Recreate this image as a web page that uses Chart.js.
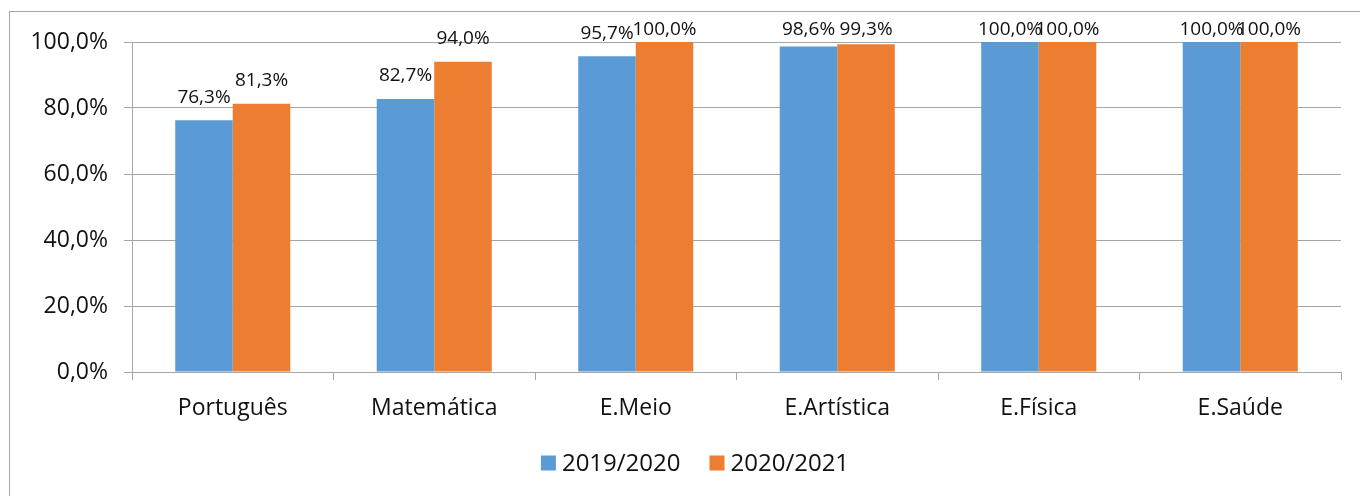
<!DOCTYPE html>
<html>
<head>
<meta charset="utf-8">
<script src="https://cdn.jsdelivr.net/npm/chart.js@4"></script>
<style>
  html, body { margin: 0; padding: 0; background: #fff; }
  #wrap { width: 1360px; height: 496px; }
</style>
</head>
<body>
<div id="wrap"><canvas id="chart" width="1360" height="496"></canvas></div>
<script>
/* ── Data ───────────────────────────────────────────── */
const categories = ["Português", "Matemática", "E.Meio", "E.Artística", "E.Física", "E.Saúde"];
const seriesNames = ["2019/2020", "2020/2021"];
const values2019 = [76.3, 82.7, 95.7, 98.6, 100.0, 100.0];
const values2020 = [81.3, 94.0, 100.0, 99.3, 100.0, 100.0];
const yTicks = [0, 20, 40, 60, 80, 100];

const FONT = "'Open Sans', 'Noto Sans', sans-serif";
const GRID = "#a6a6a6";
const TEXT = "#111";

/* Format numbers the Portuguese way: 76,3% */
function pct(v) {
  return v.toFixed(1).replace(".", ",") + "%";
}

/* ── Plugins ────────────────────────────────────────── */
/* Outer frame like the spreadsheet chart border */
const framePlugin = {
  id: "frame",
  beforeDraw(chart) {
    const ctx = chart.ctx;
    ctx.save();
    ctx.fillStyle = "#fff";
    ctx.fillRect(0, 0, chart.width, chart.height);
    ctx.strokeStyle = GRID;
    ctx.lineWidth = 1;
    ctx.strokeRect(9.5, 11.5, 1400, 600);
    ctx.restore();
  },
};

/* Value labels above each bar, kept inside the top of the plot */
const valueLabels = {
  id: "valueLabels",
  afterDatasetsDraw(chart) {
    const ctx = chart.ctx;
    const top = chart.chartArea.top;
    ctx.save();
    ctx.font = "19px " + FONT;
    ctx.fillStyle = TEXT;
    ctx.textAlign = "center";
    ctx.textBaseline = "middle";
    chart.data.datasets.forEach((ds, i) => {
      chart.getDatasetMeta(i).data.forEach((bar, j) => {
        const y = Math.max(bar.y - 23, top - 12);
        ctx.fillText(pct(ds.data[j]), bar.x, y);
      });
    });
    ctx.restore();
  },
};

/* Legend drawn by hand: small square, tight gap, text */
const bottomLegend = {
  id: "bottomLegend",
  afterDraw(chart) {
    const ctx = chart.ctx;
    const box = 15, gapText = 6, gapItem = 29, cy = 463;
    ctx.save();
    ctx.font = "24px " + FONT;
    ctx.textBaseline = "middle";
    const items = chart.data.datasets.map((ds) => ({
      text: ds.label,
      color: ds.backgroundColor,
      w: ctx.measureText(ds.label).width,
    }));
    let total = 0;
    items.forEach((it, i) => {
      total += box + gapText + it.w + (i ? gapItem : 0);
    });
    let x = 695 - total / 2;
    items.forEach((it) => {
      ctx.fillStyle = it.color;
      ctx.fillRect(x, cy - box / 2, box, box);
      x += box + gapText;
      ctx.fillStyle = TEXT;
      ctx.fillText(it.text, x, cy + 1);
      x += it.w + gapItem;
    });
    ctx.restore();
  },
};

/* ── Chart ──────────────────────────────────────────── */
new Chart(document.getElementById("chart"), {
  type: "bar",
  data: {
    labels: categories,
    datasets: [
      { label: seriesNames[0], data: values2019, backgroundColor: "#5b9bd5" },
      { label: seriesNames[1], data: values2020, backgroundColor: "#ed7d31" },
    ],
  },
  options: {
    responsive: false,
    animation: false,
    categoryPercentage: 0.571,
    barPercentage: 1.0,
    layout: { padding: { left: 0, right: 19, top: 42, bottom: 64 } },
    plugins: {
      tooltip: { enabled: false },
      legend: { display: false },
    },
    scales: {
      x: {
        grid: {
          offset: true,
          drawOnChartArea: false,
          drawTicks: true,
          tickLength: 8,
          color: GRID,
        },
        border: { color: GRID },
        ticks: {
          font: { family: FONT, size: 23 },
          color: TEXT,
          padding: 15,
        },
        afterFit(scale) { scale.height = 60; },
      },
      y: {
        min: 0,
        max: 100,
        afterBuildTicks(scale) {
          scale.ticks = yTicks.map((v) => ({ value: v }));
        },
        grid: { color: GRID, tickLength: 8 },
        border: { color: GRID },
        ticks: {
          font: { family: FONT, size: 23 },
          color: TEXT,
          padding: 16,
          callback: (v) => pct(v),
        },
        afterFit(scale) { scale.width = 132; },
      },
    },
  },
  plugins: [framePlugin, valueLabels, bottomLegend],
});
</script>
</body>
</html>
